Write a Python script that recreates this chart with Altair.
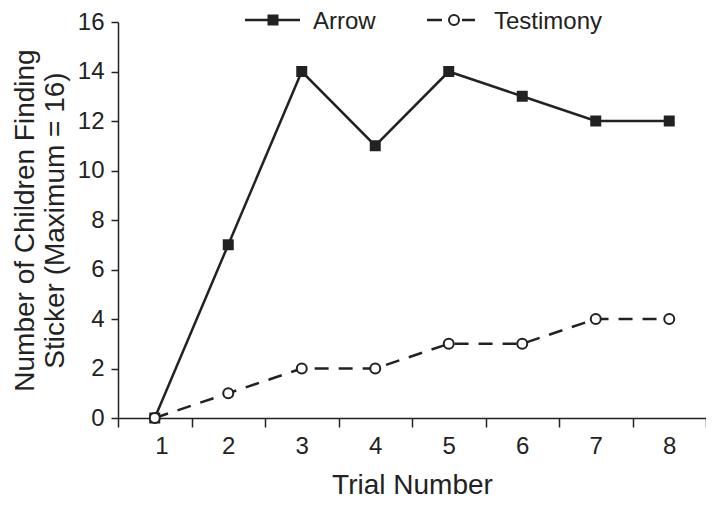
import altair as alt
import pandas as pd

trials = [1, 2, 3, 4, 5, 6, 7, 8]
arrow = [0, 7, 14, 11, 14, 13, 12, 12]
testimony = [0, 1, 2, 2, 3, 3, 4, 4]
series_names = ["Arrow", "Testimony"]

df = pd.DataFrame({
    "trial": trials * 2,
    "count": arrow + testimony,
    "series": [series_names[0]] * len(trials) + [series_names[1]] * len(trials),
})

INK = "#222222"
FONT = "Liberation Sans"
W, H = 588, 396
step = W / 8.0

xscale = alt.Scale(domain=[0.5, 8.5], nice=False, zero=False)
yscale = alt.Scale(domain=[0, 16], nice=False)

xaxis = alt.Axis(
    values=[0.5 + i for i in range(9)],
    labelExpr="datum.value < 8 ? format(datum.value + 0.5, 'd') : ''",
    labelOffset=step / 2,
    tickSize=9, labelPadding=7, grid=False,
    title="Trial Number", titlePadding=13,
)
yaxis = alt.Axis(
    values=list(range(17)),
    labelExpr="datum.value % 2 == 0 ? datum.label : ''",
    tickSize=7, labelPadding=7, grid=False,
    title=["Number of Children Finding", "Sticker (Maximum = 16)"],
    titlePadding=8,
)

arrow_df = df[df.series == "Arrow"]
test_df = df[df.series == "Testimony"]

arrow_line = alt.Chart(arrow_df).mark_line(color=INK, strokeWidth=2.5).encode(
    x=alt.X("trial:Q", scale=xscale, axis=xaxis),
    y=alt.Y("count:Q", scale=yscale, axis=yaxis),
)
arrow_pts = alt.Chart(arrow_df).mark_point(
    shape="square", filled=True, color=INK, size=121, opacity=1
).encode(x=alt.X("trial:Q", scale=xscale), y=alt.Y("count:Q", scale=yscale))

test_line = alt.Chart(test_df).mark_line(
    color=INK, strokeWidth=2.5, strokeDash=[14, 10]
).encode(x=alt.X("trial:Q", scale=xscale), y=alt.Y("count:Q", scale=yscale))
test_pts = alt.Chart(test_df).mark_point(
    shape="circle", filled=True, fill="white", stroke=INK, strokeWidth=2, size=100, opacity=1
).encode(x=alt.X("trial:Q", scale=xscale), y=alt.Y("count:Q", scale=yscale))

# legend
leg = pd.DataFrame({"series": series_names})
la = leg[leg.series == "Arrow"]
lt = leg[leg.series == "Testimony"]
LY = -2
leg_a_line = alt.Chart(la).mark_rule(color=INK, strokeWidth=2.5).encode(
    x=alt.value(127), x2=alt.value(182), y=alt.value(LY))
leg_a_pt = alt.Chart(la).mark_point(shape="square", filled=True, color=INK, size=121, opacity=1).encode(
    x=alt.value(155), y=alt.value(LY))
leg_a_txt = alt.Chart(la).mark_text(align="left", baseline="middle", font=FONT, fontSize=24, color=INK,
                                    dy=2).encode(
    x=alt.value(195), y=alt.value(LY), text="series:N")
leg_t_line = alt.Chart(lt).mark_rule(color=INK, strokeWidth=2.5, strokeDash=[15, 20, 13, 20]).encode(
    x=alt.value(309), x2=alt.value(357), y=alt.value(LY))
leg_t_pt = alt.Chart(lt).mark_point(shape="circle", filled=True, fill="white", stroke=INK, strokeWidth=2,
                                    size=100, opacity=1).encode(x=alt.value(336), y=alt.value(LY))
leg_t_txt = alt.Chart(lt).mark_text(align="left", baseline="middle", font=FONT, fontSize=24, color=INK,
                                    dy=2).encode(
    x=alt.value(376), y=alt.value(LY), text="series:N")

chart = alt.layer(
    arrow_line, test_line, arrow_pts, test_pts,
    leg_a_line, leg_a_pt, leg_a_txt, leg_t_line, leg_t_pt, leg_t_txt,
).properties(
    width=W, height=H,
    autosize=alt.AutoSizeParams(type="none"),
    padding={"left": 110, "top": 14, "right": 0, "bottom": 84},
).configure_view(stroke=None).configure_axis(
    domainColor=INK, tickColor=INK, labelColor=INK, titleColor=INK,
    domainWidth=1.5, tickWidth=1.5,
    labelFont=FONT, titleFont=FONT, labelFontSize=24, titleFontSize=28,
    titleFontWeight="normal",
)

chart.save("out.html", embed_options={"renderer": "svg", "actions": False})
